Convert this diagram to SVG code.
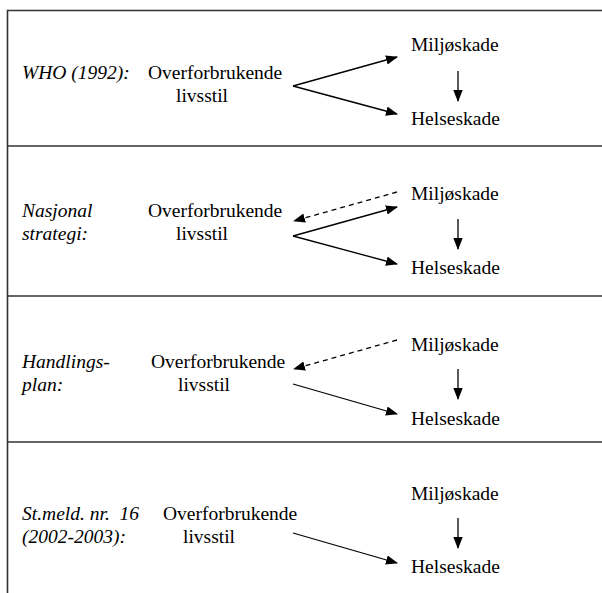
<svg xmlns="http://www.w3.org/2000/svg" width="602" height="593" viewBox="0 0 602 593">
<style>
text{font-family:"Times New Roman","Liberation Serif",serif;font-size:19.5px;fill:#000}
.it{font-style:italic}
.frame{stroke:#333;stroke-width:1.6;fill:none}
.c{stroke:#000;stroke-width:1.3;fill:none}
.d{stroke:#000;stroke-width:1.3;fill:none;stroke-dasharray:5,4}
</style>
<defs>
<marker id="ah" markerWidth="12" markerHeight="10" refX="11" refY="5" orient="auto" markerUnits="userSpaceOnUse">
<path d="M0,0.3 L12,5 L0,9.7 Z" fill="#000"/>
</marker>
</defs>
<rect width="602" height="593" fill="#fff"/>
<g id="frame">
<path class="frame" d="M7.5,593 V10.5 H602 M7.5,146 H602 M7.5,296 H602 M7.5,442 H602"/>
</g>
<g id="panel1">
<text class="it" x="22" y="79">WHO (1992):</text>
<g id="p1-lifestyle"><text x="148" y="79">Overforbrukende</text><text x="176" y="102">livsstil</text></g>
<g id="p1-miljo"><text x="411" y="51">Miljøskade</text></g>
<g id="p1-helse"><text x="411" y="125">Helseskade</text></g>
</g>
<g id="panel2">
<text class="it" x="22" y="217">Nasjonal</text>
<text class="it" x="22" y="240">strategi:</text>
<g id="p2-lifestyle"><text x="148" y="217">Overforbrukende</text><text x="176" y="240">livsstil</text></g>
<g id="p2-miljo"><text x="411" y="200">Miljøskade</text></g>
<g id="p2-helse"><text x="411" y="274">Helseskade</text></g>
</g>
<g id="panel3">
<text class="it" x="22" y="368">Handlings-</text>
<text class="it" x="22" y="391">plan:</text>
<g id="p3-lifestyle"><text x="151" y="368">Overforbrukende</text><text x="178" y="391">livsstil</text></g>
<g id="p3-miljo"><text x="411" y="351">Miljøskade</text></g>
<g id="p3-helse"><text x="411" y="425">Helseskade</text></g>
</g>
<g id="panel4">
<text class="it" x="22" y="520" xml:space="preserve">St.meld. nr.  16</text>
<text class="it" x="22" y="543">(2002-2003):</text>
<g id="p4-lifestyle"><text x="163" y="520">Overforbrukende</text><text x="183" y="543">livsstil</text></g>
<g id="p4-miljo"><text x="411" y="500">Miljøskade</text></g>
<g id="p4-helse"><text x="411" y="573">Helseskade</text></g>
</g>
<g id="connectors">
<line class="c" x1="293" y1="86" x2="397" y2="57" marker-end="url(#ah)"/>
<line class="c" x1="293" y1="86" x2="397" y2="114" marker-end="url(#ah)"/>
<line class="c" x1="458" y1="71" x2="458" y2="101" marker-end="url(#ah)"/>

<line class="c" x1="293" y1="236" x2="397" y2="207" marker-end="url(#ah)"/>
<line class="c" x1="293" y1="236" x2="397" y2="264" marker-end="url(#ah)"/>
<line class="d" x1="397" y1="192" x2="294" y2="221" marker-end="url(#ah)"/>
<line class="c" x1="458" y1="219" x2="458" y2="249" marker-end="url(#ah)"/>

<line class="d" x1="397" y1="340" x2="294" y2="369" marker-end="url(#ah)"/>
<line class="c" x1="293" y1="384" x2="397" y2="414" marker-end="url(#ah)"/>
<line class="c" x1="458" y1="369" x2="458" y2="399" marker-end="url(#ah)"/>

<line class="c" x1="293" y1="533" x2="397" y2="563" marker-end="url(#ah)"/>
<line class="c" x1="458" y1="518" x2="458" y2="548" marker-end="url(#ah)"/>
</g>
</svg>
